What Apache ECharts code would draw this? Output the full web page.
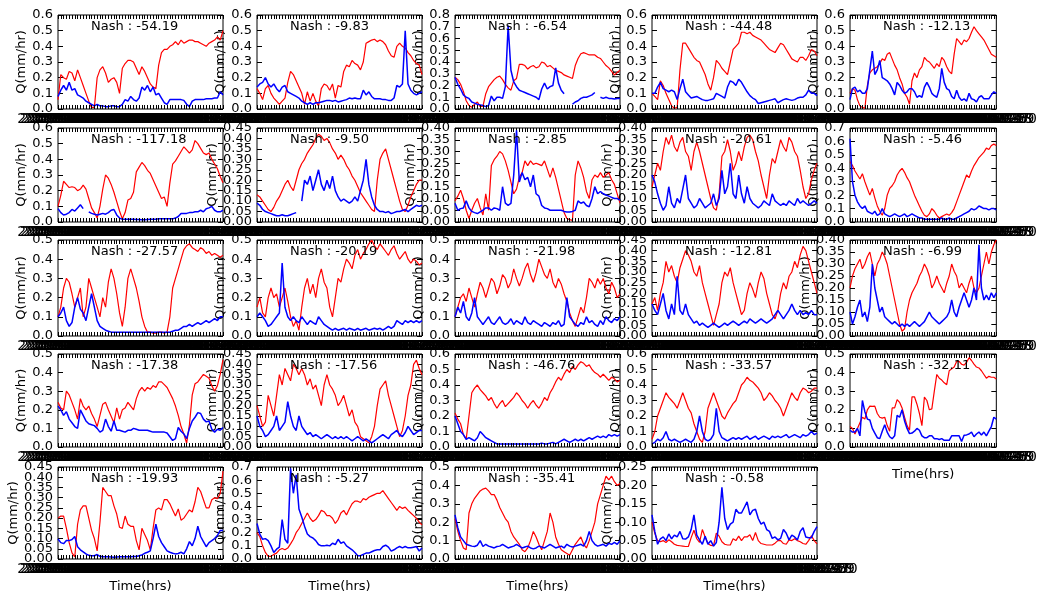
<!DOCTYPE html>
<html>
<head>
<meta charset="utf-8">
<script src="https://cdn.jsdelivr.net/npm/echarts@6/dist/echarts.min.js"></script>
<style>
html, body { margin: 0; padding: 0; background: #fff; }
#chart { width: 1040px; height: 594px; }
</style>
</head>
<body>
<div id="chart"></div>
<script>
// Nash-Sutcliffe score shown in each panel (row by row)
const nash = [-54.19, -9.83, -6.54, -44.48, -12.13,
              -117.18, -9.50, -2.85, -20.61, -5.46,
              -27.57, -20.19, -21.98, -12.81, -6.99,
              -17.38, -17.56, -46.76, -33.57, -32.11,
              -19.93, -5.27, -35.41, -0.58];

// y-axis extent and tick step of each panel
const yMax  = [0.6, 0.6, 0.8, 0.6, 0.6,
               0.6, 0.45, 0.40, 0.40, 0.7,
               0.5, 0.5, 0.5, 0.45, 0.40,
               0.5, 0.45, 0.6, 0.6, 0.5,
               0.45, 0.7, 0.5, 0.25];
const yStep = [0.1, 0.1, 0.1, 0.1, 0.1,
               0.1, 0.05, 0.05, 0.05, 0.1,
               0.1, 0.1, 0.1, 0.05, 0.05,
               0.1, 0.05, 0.1, 0.1, 0.1,
               0.05, 0.1, 0.1, 0.05];

// discharge Q (mm/hr): red = obs, blue = sim
const obs01 = [0.06,0.22,0.2,0.19,0.24,0.23,0.18,0.25,0.2,0.15,0.1,0.05,0.01,0.01,0.2,0.25,0.27,0.23,0.17,0.19,0.2,0.17,0.1,0.26,0.29,0.31,0.31,0.3,0.26,0.22,0.27,0.24,0.2,0.16,0.14,0.13,0.28,0.36,0.38,0.38,0.4,0.41,0.43,0.41,0.44,0.42,0.43,0.44,0.44,0.43,0.43,0.42,0.41,0.4,0.42,0.43,0.44,0.46,0.44,0.5];
const sim01 = [0.08,0.12,0.15,0.12,0.17,0.12,0.13,0.09,0.08,0.07,0.05,0.04,0.03,0.02,0.03,0.02,0.02,0.015,0.015,0.02,0.02,0.015,0.015,0.03,0.06,0.05,0.08,0.06,0.05,0.07,0.14,0.12,0.15,0.11,0.14,0.09,0.1,0.07,0.04,0.03,0.06,0.06,0.06,0.06,0.06,0.055,0.03,0.015,0.05,0.06,0.06,0.06,0.06,0.065,0.065,0.065,0.07,0.07,0.11,0.09];

const obs02 = [0.13,0.1,0.06,0.13,0.15,0.1,0.07,0.05,0.03,0.05,0.07,0.17,0.24,0.22,0.18,0.14,0.1,0.03,0.11,0.05,0.1,0.05,0.02,0.13,0.16,0.15,0.12,0.16,0.07,0.15,0.14,0.24,0.28,0.27,0.31,0.29,0.28,0.25,0.3,0.42,0.43,0.44,0.445,0.43,0.44,0.43,0.41,0.37,0.34,0.33,0.4,0.42,0.4,0.39,0.36,0.34,0.31,0.29,0.28,0.22];
const sim02 = [0.14,0.16,0.17,0.2,0.16,0.14,0.16,0.13,0.11,0.14,0.15,0.11,0.1,0.09,0.08,0.07,0.05,0.04,0.03,0.04,0.03,0.04,0.04,0.045,0.05,0.055,0.055,0.05,0.055,0.045,0.05,0.055,0.06,0.07,0.065,0.07,0.065,0.065,0.12,0.09,0.11,0.08,0.065,0.065,0.065,0.06,0.06,0.055,0.055,0.07,0.15,0.14,0.16,0.5,0.16,0.12,0.1,0.09,0.1,0.11];

const obs03 = [0.27,0.25,0.21,0.15,0.07,0.03,0.015,0.04,0.06,0.02,0.025,0.13,0.19,0.22,0.25,0.27,0.28,0.25,0.21,0.18,0.16,0.24,0.26,0.38,0.38,0.37,0.34,0.36,0.37,0.35,0.36,0.4,0.39,0.36,0.37,0.35,0.33,0.32,0.31,0.29,0.28,0.27,0.26,0.37,0.43,0.47,0.48,0.47,0.46,0.46,0.46,0.44,0.43,0.4,0.37,0.35,0.32,0.29,0.31,0.33];
const sim03 = [0.27,0.21,0.17,0.12,0.1,0.09,0.06,0.05,0.04,0.035,0.03,0.02,0.03,0.11,0.07,0.1,0.1,0.09,0.19,0.71,0.33,0.23,0.19,0.16,0.15,0.14,0.13,0.12,0.11,0.1,0.08,0.17,0.22,0.17,0.19,0.2,0.35,0.22,0.16,0.13,null,null,0.04,0.06,0.07,0.09,0.1,0.1,0.11,0.12,0.14,null,0.1,0.09,0.1,0.09,0.09,0.085,0.09,0.09];

const obs04 = [0.1,0.08,0.06,0.18,0.15,0.1,0.06,0.02,0.005,0.01,0.25,0.42,0.42,0.39,0.36,0.33,0.31,0.3,0.26,0.22,0.16,0.12,0.2,0.31,0.29,0.26,0.24,0.22,0.3,0.38,0.4,0.42,0.49,0.49,0.48,0.49,0.47,0.46,0.45,0.44,0.42,0.4,0.38,0.37,0.36,0.39,0.42,0.41,0.38,0.35,0.32,0.31,0.3,0.33,0.33,0.31,0.34,0.38,0.37,0.34];
const sim04 = [0.1,0.1,0.14,0.17,0.13,0.12,0.11,0.12,0.11,0.06,0.13,0.19,0.11,0.09,0.07,0.075,0.08,0.07,0.06,0.055,0.055,0.06,0.065,0.1,0.09,0.08,0.07,0.14,0.18,0.17,0.15,0.19,0.17,0.14,0.11,0.085,0.07,0.06,0.035,0.04,0.045,0.05,0.055,0.06,0.065,0.04,0.05,0.06,0.065,0.06,0.055,0.06,0.07,0.075,0.075,0.09,0.12,0.1,0.1,0.085];

const obs05 = [0.1,0.13,0.12,0.06,0.02,0.01,0.005,0.15,0.23,0.25,0.26,0.27,0.29,0.32,0.31,0.35,0.36,0.32,0.28,0.25,0.2,0.16,0.1,0.075,0.03,0.18,0.23,0.2,0.25,0.27,0.33,0.31,0.3,0.28,0.26,0.29,0.27,0.33,0.31,0.27,0.24,0.225,0.35,0.45,0.43,0.41,0.44,0.43,0.45,0.49,0.525,0.5,0.48,0.46,0.44,0.41,0.38,0.35,0.34,0.33];
const sim05 = [0.06,0.13,0.14,0.11,0.12,0.1,0.1,0.13,0.25,0.37,0.22,0.25,0.31,0.2,0.19,0.18,0.16,0.13,0.09,0.17,0.15,0.12,0.1,0.11,0.13,0.13,0.11,0.075,0.085,0.075,0.14,0.17,0.14,0.1,0.085,0.075,0.13,0.26,0.17,0.13,0.12,0.08,0.065,0.12,0.075,0.055,0.065,0.05,0.1,0.065,0.06,0.045,0.075,0.085,0.065,0.065,0.065,0.09,0.11,0.1];

const obs06 = [0.1,0.17,0.26,0.24,0.22,0.225,0.22,0.2,0.21,0.235,0.21,0.15,0.09,0.06,0.025,0.1,0.21,0.3,0.28,0.24,0.19,0.13,0.07,0.02,0.06,0.14,0.15,0.19,0.32,0.35,0.38,0.36,0.33,0.31,0.27,0.23,0.19,0.15,0.16,0.1,0.25,0.37,0.39,0.42,0.45,0.48,0.46,0.44,0.46,0.52,0.5,0.47,0.44,0.43,0.44,0.4,0.37,0.34,0.29,0.25];
const sim06 = [0.085,0.06,0.045,0.05,0.06,0.08,0.07,0.09,0.11,0.085,null,0.065,0.055,0.05,0.045,0.05,0.055,0.05,0.06,0.075,0.08,0.045,0.025,0.018,0.017,0.017,0.017,0.017,0.016,0.016,0.015,0.015,0.016,0.017,0.017,0.018,0.02,0.02,0.02,0.02,0.02,0.02,0.025,0.035,0.055,0.055,0.055,0.06,0.06,0.065,0.065,0.075,0.065,0.085,0.09,0.1,0.075,0.065,0.065,0.075];

const obs07 = [0.13,0.12,0.1,0.08,0.06,0.05,0.07,0.1,0.12,0.15,0.18,0.2,0.17,0.15,0.2,0.25,0.28,0.3,0.33,0.35,0.37,0.4,0.42,0.41,0.39,0.4,0.38,0.35,0.33,0.3,0.32,0.3,0.27,0.25,0.22,0.2,0.17,0.14,0.12,0.1,0.08,0.06,0.05,0.2,0.3,0.33,0.35,0.3,0.25,0.2,0.15,0.1,0.06,0.05,0.08,0.12,0.15,0.18,0.2,0.2];
const sim07 = [0.09,0.08,0.06,0.05,0.045,0.04,0.035,0.03,0.03,0.035,0.03,0.03,0.035,0.04,0.045,null,0.1,0.2,0.18,0.22,0.15,0.2,0.25,0.18,0.15,0.2,0.16,0.22,0.15,0.12,0.1,0.11,0.1,0.09,0.1,0.12,0.1,0.15,0.2,0.3,0.18,0.12,0.08,0.06,0.05,0.05,0.045,0.05,0.04,0.045,0.05,0.05,0.055,0.06,0.05,0.06,0.07,0.08,0.075,0.08];

const obs08 = [0.09,0.11,0.135,0.1,0.05,0.015,0.05,0.08,0.1,0.06,0.03,0.12,0.05,0.24,0.265,0.28,0.3,0.29,0.26,0.22,0.17,0.12,0.14,0.19,0.21,0.26,0.24,0.26,0.245,0.25,0.245,0.24,0.26,0.225,0.19,0.23,0.19,0.14,0.09,0.04,0.015,0.01,0.007,0.2,0.26,0.23,0.19,0.13,0.1,0.18,0.2,0.19,0.21,0.19,0.2,0.21,0.18,0.16,0.12,0.08];
const sim08 = [0.08,0.05,0.057,0.06,0.09,0.06,0.045,0.04,0.036,0.043,0.05,0.06,0.06,0.05,0.06,0.057,0.05,0.15,0.08,0.071,0.079,0.2,0.39,0.17,0.21,0.18,0.19,0.15,0.2,0.12,0.11,0.07,0.06,0.057,0.05,0.05,0.05,0.05,0.05,0.045,0.043,0.043,0.045,0.05,0.09,0.08,0.085,0.07,0.065,0.1,0.15,0.12,0.13,0.12,0.115,0.11,0.105,0.1,0.1,0.093];

const obs09 = [0.15,0.2,0.25,0.22,0.3,0.36,0.33,0.37,0.32,0.3,0.34,0.36,0.3,0.28,0.22,0.3,0.34,0.3,0.25,0.2,0.15,0.1,0.06,0.05,0.12,0.28,0.3,0.35,0.3,0.22,0.25,0.3,0.26,0.32,0.36,0.37,0.35,0.3,0.26,0.2,0.15,0.1,0.2,0.27,0.25,0.3,0.35,0.32,0.3,0.36,0.34,0.3,0.28,0.22,0.15,0.1,0.12,0.18,0.22,0.25];
const sim09 = [0.2,0.17,0.12,0.08,0.05,0.07,0.15,0.08,0.06,0.1,0.08,0.14,0.2,0.1,0.08,0.06,0.07,0.1,0.08,0.06,0.07,0.08,0.12,0.07,0.1,0.22,0.12,0.15,0.25,0.12,0.1,0.2,0.12,0.08,0.15,0.1,0.08,0.07,0.06,0.07,0.09,0.08,0.07,0.12,0.09,0.08,0.07,0.08,0.07,0.09,0.08,0.07,0.1,0.08,0.09,0.08,0.07,0.08,0.09,0.08];

const obs10 = [0.45,0.42,0.38,0.35,0.32,0.36,0.3,0.25,0.2,0.25,0.18,0.12,0.08,0.05,0.1,0.2,0.25,0.27,0.3,0.35,0.38,0.4,0.37,0.33,0.3,0.25,0.2,0.16,0.12,0.08,0.05,0.04,0.06,0.1,0.08,0.05,0.03,0.04,0.05,0.06,0.05,0.07,0.1,0.15,0.2,0.25,0.3,0.35,0.33,0.38,0.42,0.45,0.48,0.5,0.52,0.55,0.54,0.57,0.58,0.57];
const sim10 = [0.62,0.3,0.2,0.15,0.12,0.1,0.12,0.08,0.07,0.06,0.08,0.05,0.06,0.1,0.06,0.05,0.04,0.05,0.06,0.05,0.04,0.05,0.06,0.04,0.05,0.06,0.05,0.04,0.03,0.03,0.02,0.02,0.02,0.02,0.02,0.02,0.02,0.03,0.02,0.02,0.03,0.02,0.02,0.03,0.04,0.05,0.06,0.07,0.08,0.1,0.09,0.1,0.12,0.11,0.1,0.1,0.09,0.1,0.1,0.09];

const obs11 = [0.1,0.15,0.25,0.3,0.28,0.22,0.15,0.2,0.25,0.1,0.15,0.3,0.25,0.2,0.15,0.1,0.2,0.15,0.28,0.35,0.3,0.22,0.12,0.05,0.15,0.3,0.35,0.3,0.25,0.18,0.1,0.05,0.02,0.02,0.015,0.015,0.02,0.02,0.015,0.02,0.1,0.25,0.3,0.35,0.4,0.45,0.47,0.48,0.46,0.45,0.44,0.46,0.45,0.43,0.44,0.42,0.43,0.42,0.41,0.42];
const sim11 = [0.1,0.12,0.15,0.08,0.05,0.07,0.15,0.2,0.14,0.12,0.08,0.15,0.22,0.15,0.08,0.05,0.04,0.03,0.025,0.02,0.02,0.02,0.02,0.02,0.02,0.02,0.02,0.02,0.02,0.02,0.02,0.02,0.02,0.02,0.02,0.02,0.02,0.02,0.02,0.02,0.02,0.025,0.03,0.03,0.04,0.05,0.05,0.06,0.05,0.06,0.07,0.06,0.07,0.08,0.07,0.08,0.09,0.08,0.1,0.1];

const obs12 = [0.15,0.2,0.12,0.1,0.2,0.25,0.2,0.22,0.15,0.2,0.25,0.18,0.1,0.05,0.08,0.03,0.15,0.25,0.3,0.22,0.27,0.2,0.3,0.35,0.28,0.25,0.15,0.1,0.2,0.3,0.28,0.35,0.4,0.38,0.35,0.42,0.45,0.4,0.43,0.45,0.48,0.5,0.47,0.45,0.48,0.46,0.44,0.42,0.45,0.47,0.43,0.4,0.42,0.44,0.4,0.38,0.4,0.39,0.37,0.38];
const sim12 = [0.1,0.12,0.1,0.08,0.05,0.06,0.08,0.1,0.12,0.38,0.15,0.1,0.08,0.1,0.08,0.07,0.1,0.08,0.06,0.08,0.07,0.06,0.1,0.08,0.06,0.05,0.04,0.03,0.04,0.03,0.035,0.04,0.03,0.04,0.035,0.03,0.04,0.03,0.035,0.04,0.03,0.035,0.04,0.035,0.04,0.03,0.04,0.05,0.04,0.05,0.08,0.07,0.06,0.08,0.07,0.08,0.07,0.08,0.07,0.08];

const obs13 = [0.1,0.15,0.2,0.22,0.18,0.25,0.2,0.15,0.22,0.28,0.25,0.2,0.25,0.3,0.28,0.22,0.26,0.32,0.3,0.25,0.28,0.35,0.3,0.26,0.3,0.35,0.38,0.32,0.28,0.33,0.4,0.36,0.32,0.3,0.35,0.28,0.25,0.3,0.27,0.22,0.18,0.12,0.08,0.05,0.1,0.15,0.12,0.2,0.3,0.28,0.25,0.3,0.27,0.3,0.25,0.22,0.28,0.25,0.2,0.22];
const sim13 = [0.1,0.15,0.12,0.18,0.1,0.08,0.12,0.2,0.1,0.08,0.06,0.08,0.1,0.07,0.06,0.08,0.1,0.07,0.06,0.07,0.09,0.06,0.08,0.07,0.06,0.1,0.07,0.06,0.08,0.07,0.06,0.05,0.07,0.06,0.05,0.07,0.06,0.08,0.05,0.06,0.2,0.1,0.08,0.06,0.05,0.07,0.06,0.1,0.07,0.08,0.06,0.05,0.08,0.06,0.1,0.08,0.07,0.09,0.08,0.1];

const obs14 = [0.15,0.18,0.12,0.2,0.25,0.35,0.3,0.33,0.28,0.25,0.32,0.36,0.4,0.38,0.35,0.3,0.28,0.33,0.25,0.2,0.15,0.1,0.05,0.1,0.15,0.25,0.3,0.28,0.32,0.25,0.2,0.15,0.1,0.12,0.2,0.25,0.22,0.18,0.25,0.3,0.27,0.2,0.15,0.1,0.08,0.12,0.2,0.25,0.22,0.28,0.3,0.35,0.32,0.38,0.42,0.4,0.35,0.3,0.25,0.2];
const sim14 = [0.15,0.12,0.1,0.15,0.2,0.12,0.08,0.15,0.1,0.28,0.12,0.1,0.15,0.1,0.08,0.06,0.07,0.05,0.06,0.05,0.04,0.05,0.06,0.05,0.04,0.05,0.06,0.05,0.06,0.07,0.06,0.05,0.06,0.07,0.06,0.08,0.07,0.06,0.07,0.08,0.07,0.06,0.07,0.08,0.1,0.12,0.1,0.08,0.1,0.12,0.15,0.12,0.1,0.12,0.1,0.11,0.1,0.12,0.1,0.1];

const obs15 = [0.2,0.25,0.28,0.3,0.32,0.28,0.3,0.33,0.35,0.3,0.25,0.3,0.32,0.35,0.33,0.3,0.25,0.2,0.15,0.1,0.05,0.02,0.03,0.1,0.15,0.18,0.2,0.22,0.25,0.27,0.3,0.28,0.25,0.2,0.22,0.25,0.22,0.2,0.18,0.22,0.25,0.3,0.27,0.25,0.2,0.22,0.2,0.18,0.22,0.25,0.2,0.18,0.2,0.25,0.3,0.35,0.3,0.35,0.38,0.4];
const sim15 = [0.1,0.05,0.08,0.12,0.15,0.08,0.1,0.06,0.12,0.3,0.2,0.15,0.1,0.12,0.08,0.07,0.06,0.05,0.06,0.05,0.04,0.05,0.04,0.05,0.04,0.05,0.06,0.05,0.04,0.05,0.06,0.08,0.1,0.08,0.07,0.06,0.05,0.06,0.07,0.08,0.1,0.15,0.1,0.08,0.12,0.15,0.18,0.15,0.12,0.15,0.2,0.15,0.38,0.2,0.15,0.17,0.15,0.18,0.16,0.18];

const obs16 = [0.24,0.21,0.2,0.3,0.28,0.24,0.2,0.15,0.26,0.22,0.2,0.22,0.18,0.15,0.11,0.17,0.23,0.24,0.2,0.165,0.13,0.21,0.15,0.2,0.21,0.24,0.22,0.2,0.26,0.3,0.32,0.3,0.32,0.31,0.33,0.32,0.35,0.35,0.335,0.32,0.29,0.26,0.22,0.17,0.11,0.07,0.02,0.12,0.28,0.34,0.35,0.37,0.39,0.38,0.37,0.33,0.3,0.33,0.39,0.47];
const sim16 = [0.22,0.2,0.17,0.19,0.15,0.13,0.11,0.1,0.2,0.17,0.14,0.125,0.12,0.115,0.1,0.08,0.09,0.15,0.11,0.085,0.14,0.09,0.09,0.085,0.08,0.09,0.09,0.1,0.095,0.09,0.09,0.09,0.09,0.085,0.08,0.08,0.08,0.08,0.08,0.075,0.055,0.035,0.045,0.105,0.085,0.07,0.045,0.1,0.14,0.16,0.185,0.18,0.15,0.135,0.14,0.095,0.08,0.095,0.09,0.105];

const obs17 = [0.2,0.15,0.1,0.12,0.25,0.2,0.15,0.25,0.35,0.3,0.38,0.35,0.32,0.4,0.38,0.35,0.38,0.35,0.3,0.33,0.28,0.3,0.25,0.2,0.3,0.35,0.3,0.28,0.25,0.2,0.22,0.25,0.2,0.15,0.18,0.12,0.1,0.05,0.04,0.03,0.02,0.05,0.1,0.2,0.28,0.3,0.32,0.25,0.2,0.15,0.1,0.05,0.08,0.15,0.25,0.3,0.4,0.42,0.38,0.35];
const sim17 = [0.15,0.1,0.08,0.05,0.06,0.08,0.1,0.15,0.08,0.1,0.12,0.22,0.15,0.1,0.08,0.15,0.1,0.08,0.06,0.07,0.05,0.06,0.05,0.04,0.05,0.06,0.05,0.04,0.05,0.04,0.05,0.04,0.05,0.04,0.03,0.04,0.05,0.04,0.03,0.04,0.03,0.02,0.03,0.04,0.05,0.06,0.05,0.04,0.06,0.07,0.08,0.06,0.05,0.07,0.1,0.08,0.06,0.07,0.08,0.08];

const obs18 = [0.22,0.18,0.15,0.08,0.05,0.2,0.35,0.38,0.4,0.37,0.35,0.33,0.3,0.32,0.28,0.25,0.28,0.3,0.26,0.28,0.3,0.32,0.35,0.33,0.3,0.28,0.25,0.28,0.3,0.27,0.25,0.28,0.32,0.3,0.35,0.38,0.42,0.45,0.43,0.47,0.5,0.48,0.52,0.5,0.53,0.55,0.54,0.52,0.53,0.5,0.48,0.47,0.45,0.47,0.45,0.43,0.45,0.44,0.42,0.43];
const sim18 = [0.2,0.15,0.1,0.08,0.05,0.06,0.05,0.04,0.06,0.1,0.08,0.06,0.05,0.04,0.03,0.02,0.02,0.02,0.02,0.02,0.02,0.02,0.02,0.02,0.02,0.02,0.02,0.02,0.02,0.02,0.02,0.025,0.02,0.02,0.025,0.03,0.02,0.03,0.04,0.05,0.04,0.03,0.04,0.05,0.04,0.05,0.04,0.05,0.06,0.05,0.06,0.07,0.06,0.07,0.06,0.08,0.07,0.08,0.07,0.08];

const obs19 = [0.05,0.1,0.2,0.25,0.3,0.35,0.32,0.3,0.28,0.25,0.3,0.35,0.3,0.25,0.22,0.15,0.1,0.05,0.03,0.1,0.25,0.3,0.35,0.3,0.25,0.2,0.18,0.22,0.25,0.28,0.3,0.35,0.4,0.42,0.45,0.43,0.42,0.4,0.38,0.35,0.3,0.32,0.35,0.33,0.3,0.28,0.25,0.2,0.25,0.3,0.35,0.32,0.3,0.35,0.38,0.37,0.35,0.36,0.38,0.38];
const sim19 = [0.02,0.03,0.05,0.04,0.06,0.1,0.05,0.04,0.05,0.04,0.03,0.04,0.05,0.04,0.03,0.05,0.1,0.2,0.1,0.05,0.04,0.05,0.08,0.25,0.1,0.06,0.05,0.04,0.05,0.06,0.05,0.06,0.05,0.06,0.07,0.05,0.06,0.07,0.05,0.06,0.07,0.06,0.05,0.07,0.06,0.07,0.06,0.07,0.08,0.06,0.07,0.08,0.07,0.06,0.08,0.07,0.08,0.1,0.08,0.09];

const obs20 = [0.11,0.1,0.07,0.1,0.13,0.16,0.15,0.2,0.22,0.218,0.22,0.18,0.16,0.155,0.16,0.115,0.085,0.21,0.21,0.255,0.24,0.21,0.16,0.115,0.09,0.27,0.27,0.23,0.18,0.115,0.268,0.25,0.2,0.205,0.3,0.39,0.37,0.36,0.345,0.335,0.41,0.42,0.43,0.46,0.46,0.445,0.44,0.455,0.48,0.465,0.446,0.43,0.425,0.41,0.39,0.37,0.38,0.375,0.375,0.366];
const sim20 = [0.09,0.08,0.08,0.1,0.06,0.25,0.19,0.15,0.145,0.1,0.075,0.05,0.045,0.085,0.12,0.08,0.055,0.045,0.06,0.17,0.16,0.2,0.14,0.1,0.072,0.075,0.085,0.1,0.09,0.06,0.05,0.05,0.06,0.06,0.045,0.045,0.04,0.045,0.036,0.036,0.036,0.06,0.06,0.06,0.06,0.03,0.063,0.065,0.07,0.08,0.055,0.07,0.08,0.065,0.08,0.06,0.085,0.11,0.16,0.15];

const obs21 = [0.2,0.21,0.21,0.15,0.08,0.03,0.01,0.17,0.24,0.26,0.26,0.2,0.14,0.1,0.04,0.18,0.35,0.33,0.31,0.31,0.26,0.22,0.155,0.15,0.21,0.17,0.16,0.16,0.09,0.045,0.15,0.12,0.09,0.045,0.15,0.24,0.25,0.24,0.29,0.29,0.27,0.24,0.21,0.245,0.19,0.2,0.22,0.24,0.23,0.28,0.35,0.33,0.29,0.25,0.25,0.29,0.3,0.295,0.32,0.43];
const sim21 = [0.098,0.08,0.075,0.09,0.09,0.095,0.11,0.06,0.045,0.035,0.025,0.018,0.016,0.016,0.022,0.013,0.011,0.011,0.011,0.01,0.009,0.01,0.011,0.011,0.011,0.011,0.011,0.012,0.012,0.016,0.02,0.028,0.033,0.04,0.1,0.17,0.11,0.08,0.06,0.04,0.033,0.028,0.025,0.027,0.033,0.025,0.05,0.085,0.065,0.1,0.16,0.11,0.085,0.06,0.08,0.09,0.1,0.115,0.14,0.14];

const obs22 = [0.2,0.17,0.1,0.05,0.02,0.02,0.035,0.045,0.07,0.08,0.07,0.083,0.115,0.15,0.2,0.23,0.27,0.31,0.35,0.31,0.285,0.3,0.33,0.37,0.36,0.33,0.33,0.31,0.27,0.3,0.35,0.37,0.335,0.38,0.42,0.44,0.44,0.43,0.46,0.45,0.47,0.48,0.49,0.5,0.5,0.52,0.49,0.46,0.43,0.4,0.37,0.4,0.385,0.395,0.37,0.35,0.33,0.31,0.28,0.26];
const sim22 = [0.27,0.19,0.15,0.155,0.14,0.1,0.05,0.075,0.09,0.3,0.15,0.12,0.69,0.5,0.64,0.38,0.32,0.25,0.19,0.17,0.16,0.14,0.11,0.1,0.1,0.105,0.1,0.12,0.11,0.15,0.12,0.13,0.1,0.085,0.07,0.05,0.025,0.025,0.035,0.045,0.045,0.055,0.065,0.07,0.07,0.095,0.105,0.09,0.06,0.07,0.085,0.095,0.085,0.095,0.085,0.085,0.09,0.095,0.06,0.083];

const obs23 = [0.22,0.15,0.1,0.06,0.05,0.25,0.3,0.33,0.35,0.37,0.38,0.385,0.37,0.35,0.35,0.32,0.28,0.25,0.22,0.2,0.15,0.12,0.1,0.08,0.05,0.04,0.06,0.1,0.15,0.12,0.08,0.05,0.1,0.15,0.25,0.2,0.12,0.08,0.05,0.04,0.03,0.02,0.05,0.08,0.1,0.12,0.08,0.06,0.1,0.15,0.2,0.3,0.35,0.4,0.45,0.43,0.45,0.42,0.4,0.41];
const sim23 = [0.24,0.17,0.12,0.1,0.08,0.075,0.07,0.068,0.075,0.1,0.068,0.08,0.07,0.065,0.06,0.068,0.07,0.08,0.07,0.06,0.065,0.07,0.08,0.07,0.06,0.065,0.07,0.06,0.055,0.06,0.07,0.065,0.06,0.07,0.08,0.07,0.06,0.065,0.07,0.06,0.08,0.07,0.065,0.07,0.075,0.08,0.07,0.1,0.15,0.1,0.08,0.07,0.075,0.08,0.07,0.085,0.08,0.09,0.08,0.1];

const obs24 = [0.1,0.07,0.05,0.047,0.05,0.045,0.052,0.047,0.04,0.037,0.036,0.035,0.034,0.034,0.058,0.078,0.055,0.045,0.08,0.06,0.042,0.037,0.036,0.07,0.062,0.047,0.04,0.038,0.038,0.055,0.05,0.062,0.05,0.06,0.06,0.066,0.05,0.072,0.05,0.042,0.04,0.038,0.038,0.038,0.043,0.05,0.05,0.042,0.04,0.052,0.05,0.055,0.05,0.047,0.042,0.04,0.05,0.063,0.05,0.041];
const sim24 = [0.12,0.075,0.04,0.055,0.06,0.05,0.068,0.055,0.065,0.06,0.075,0.055,0.054,0.06,0.08,0.12,0.065,0.052,0.04,0.062,0.04,0.05,0.035,0.045,0.1,0.195,0.11,0.08,0.095,0.1,0.135,0.125,0.125,0.14,0.155,0.12,0.132,0.135,0.11,0.095,0.1,0.08,0.075,0.056,0.06,0.052,0.056,0.08,0.07,0.052,0.065,0.06,0.052,0.075,0.085,0.06,0.058,0.058,0.075,0.088];

const obsList = [obs01, obs02, obs03, obs04, obs05, obs06, obs07, obs08, obs09, obs10, obs11, obs12,
                 obs13, obs14, obs15, obs16, obs17, obs18, obs19, obs20, obs21, obs22, obs23, obs24];
const simList = [sim01, sim02, sim03, sim04, sim05, sim06, sim07, sim08, sim09, sim10, sim11, sim12,
                 sim13, sim14, sim15, sim16, sim17, sim18, sim19, sim20, sim21, sim22, sim23, sim24];

// one date label per sample along the time axis
const timeTicks = obs01.map((_, i) =>
  new Date(Date.UTC(2009, 5, 1) + i * 86400000).toISOString().slice(0, 10));

// Q tick labels of each panel ("0.0, 0.1, ..." or "0.00, 0.05, ...")
const qTicks = yMax.map((m, k) => {
  const n = Math.round(m / yStep[k]);
  const dec = yStep[k] < 0.1 ? 2 : 1;
  const out = [];
  for (let i = 0; i <= n; i++) out.push((i * yStep[k]).toFixed(dec));
  return out;
});

// panel frame layout
const colLeft = [58, 257, 455, 652, 850];
const panelW = 165;
const rowTop = [15, 128, 240, 354, 467];
const rowBottom = [109, 222, 336, 447, 559];
const timeTitled = [19, 20, 21, 22, 23];

const FONT = 'DejaVu Sans';
const grid = [], xAxis = [], yAxis = [], series = [], title = [];

nash.forEach((score, k) => {
  const r = Math.floor(k / 5), c = k % 5;
  const top = rowTop[r];
  const h = rowBottom[r] - rowTop[r];
  grid.push({
    left: colLeft[c], top: top, width: panelW, height: h,
    show: true, borderColor: '#000', borderWidth: 1
  });
  // time axis: crowded date labels + inside ticks (own canvas layer, above everything)
  xAxis.push({
    gridIndex: k, type: 'category', data: timeTicks, boundaryGap: false,
    zlevel: 1, z: 50,
    axisLine: { show: false },
    axisTick: { show: true, inside: true, length: 4, interval: 0, lineStyle: { color: '#000', width: 1 } },
    axisLabel: { interval: 0, margin: 3, fontSize: 14, color: '#000', fontFamily: FONT,
                 textBorderWidth: 0, backgroundColor: 'transparent' },
    splitLine: { show: false },
    name: timeTitled.includes(k) ? 'Time(hrs)' : '',
    nameLocation: 'middle', nameGap: 21,
    nameTextStyle: { fontSize: 13, color: '#000', fontFamily: FONT }
  });
  // top ticks
  xAxis.push({
    gridIndex: k, type: 'category', data: timeTicks, boundaryGap: false,
    position: 'top',
    axisLine: { show: false, onZero: false },
    axisTick: { show: true, inside: true, length: 4, interval: 0, lineStyle: { color: '#000', width: 1 } },
    axisLabel: { show: false },
    splitLine: { show: false }
  });
  const dec = yStep[k] < 0.1 ? 2 : 1;
  // data axis for Q (hidden)
  yAxis.push({
    gridIndex: k, type: 'value', min: 0, max: yMax[k], show: false
  });
  // left Q ticks with labels
  yAxis.push({
    gridIndex: k, type: 'category', data: qTicks[k], boundaryGap: false,
    position: 'left',
    axisLine: { show: false, onZero: false },
    splitLine: { show: false },
    axisTick: { show: true, inside: true, length: 5, interval: 0, lineStyle: { color: '#000' } },
    axisLabel: { interval: 0, fontSize: 13, color: '#000', margin: 5, fontFamily: FONT },
    name: 'Q(mm/hr)', nameLocation: 'middle', nameGap: dec === 2 ? 35 : 25,
    nameTextStyle: { fontSize: 13, color: '#000', fontFamily: FONT }
  });
  // right Q ticks
  yAxis.push({
    gridIndex: k, type: 'category', data: qTicks[k], boundaryGap: false,
    position: 'right',
    axisLine: { show: false, onZero: false },
    splitLine: { show: false },
    axisTick: { show: true, inside: true, length: 5, interval: 0, lineStyle: { color: '#000' } },
    axisLabel: { show: false }
  });
  series.push({
    type: 'line', xAxisIndex: 2 * k, yAxisIndex: 3 * k, data: obsList[k],
    showSymbol: false, symbol: 'none', connectNulls: false,
    lineStyle: { color: '#ff0000', width: 1.2 }, itemStyle: { color: '#ff0000' }
  });
  series.push({
    type: 'line', xAxisIndex: 2 * k, yAxisIndex: 3 * k, data: simList[k],
    showSymbol: false, symbol: 'none', connectNulls: false,
    lineStyle: { color: '#0000ff', width: 1.5 }, itemStyle: { color: '#0000ff' }
  });
  title.push({
    text: 'Nash : ' + score.toFixed(2),
    left: colLeft[c] + 33, top: top + 5, padding: 0,
    textStyle: { fontSize: 13, fontWeight: 'normal', color: '#000', fontFamily: FONT }
  });
});

const chart = echarts.init(document.getElementById('chart'), null, { renderer: 'canvas' });
chart.setOption({
  animation: false,
  title: title,
  grid: grid,
  xAxis: xAxis,
  yAxis: yAxis,
  series: series
});
</script>
</body>
</html>
